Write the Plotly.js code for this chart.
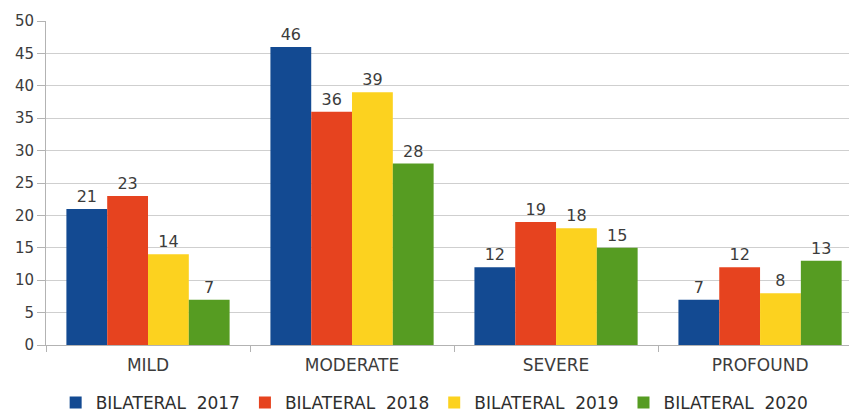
<!DOCTYPE html>
<html><head><meta charset="utf-8">
<script src="https://cdn.plot.ly/plotly-3.0.1.min.js"></script>
<style>html,body{margin:0;padding:0;background:#fff}#c{width:849px;height:412px}</style>
</head><body><div id="c"></div>
<script>
const categories = ["MILD", "MODERATE", "SEVERE", "PROFOUND"];
const seriesNames = ["BILATERAL  2017", "BILATERAL  2018", "BILATERAL  2019", "BILATERAL  2020"];
const v2017 = [21, 46, 12, 7];
const v2018 = [23, 36, 19, 12];
const v2019 = [14, 39, 18, 8];
const v2020 = [7, 28, 15, 13];
const colors = ["#134a92", "#e6431f", "#fcd21f", "#569c22"];
const values = [v2017, v2018, v2019, v2020];

const FONT = "DejaVu Sans, Verdana, sans-serif";
const traces = values.map((v, i) => ({
  type: "bar", x: categories, y: v, name: seriesNames[i],
  marker: {color: colors[i]},
  text: v.map(String), textposition: "outside", cliponaxis: false,
  textfont: {family: FONT, size: 16, color: "#3c3c3c"}
}));

const layout = {
  width: 849, height: 412,
  margin: {l: 46, r: 0, t: 21, b: 67, autoexpand: false},
  barmode: "group", bargap: 0.2, bargroupgap: 0,
  paper_bgcolor: "#fff", plot_bgcolor: "#fff",
  font: {family: FONT, size: 15, color: "#3c3c3c"},
  xaxis: {type: "category", range: [-0.5, 3.436], showline: true, linecolor: "#b3b3b3",
          ticks: "outside", tickson: "boundaries", ticklen: 6, tickcolor: "#b3b3b3",
          ticklabelstandoff: 5,
          tickfont: {family: FONT, size: 17, color: "#3c3c3c"}},
  yaxis: {range: [0, 50], dtick: 5, showline: true, linecolor: "#b3b3b3",
          ticks: "outside", ticklen: 8, tickcolor: "#b3b3b3",
          gridcolor: "#cfcfcf", zeroline: false,
          tickfont: {family: FONT, size: 15, color: "#3c3c3c"}},
  legend: {orientation: "h", x: 0.484, xanchor: "center", y: -0.179, yanchor: "middle",
           font: {family: FONT, size: 17, color: "#2e2e2e"}, itemwidth: 30},
  showlegend: true
};
Plotly.newPlot("c", traces, layout, {displayModeBar: false, staticPlot: true});
</script></body></html>
